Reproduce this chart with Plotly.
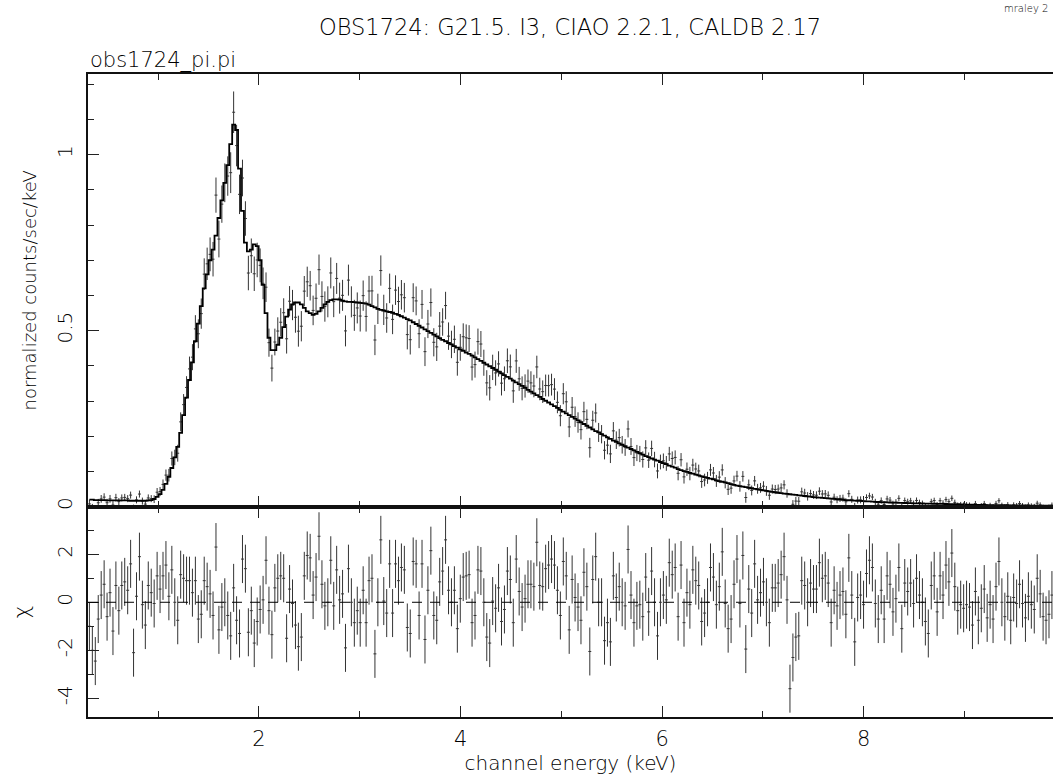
import numpy as np
import plotly.graph_objects as go
from plotly.subplots import make_subplots

# ---- channel grid (2 ACIS channels of 14.6 eV per bin) ----
bin_width_keV = 0.0292
first_bin_keV = 0.318

# ---- residuals (delta chi) read bin by bin ----
resid_chi = [
    -1.0, -2.0, -2.45, -0.7, 0.3, 0.75, -0.6, 0.4, -1.2, 0.7,
    -0.35, 0.7, 0.85, 0.5, 1.6, -2.1, 0.25, 1.9, -0.1, -0.95,
    0.7, 0.4, -0.05, 1.1, 0.55, 1.1, 1.55, 0.25, 1.35, 0.0,
    -0.75, 1.15, 1.0, 0.9, 0.9, 0.4, 0.9, -0.7, -0.5, 0.9,
    0.65, 0.35, -0.55, 2.3, -1.15, -0.2, 0.0, -0.55, -1.4, 0.6,
    -0.75, -1.3, 1.8, 1.4, -1.25, -0.35, -1.7, -0.8, -0.3, 0.1,
    1.75, -0.35, -1.35, 0.6, 1.0, 1.1, 1.0,
    -1.5, 0.55, -0.05, -0.95, -1.85, -1.45, 1.1, 1.95, 1.85, 0.3,
    1.05, 2.75, 0.75, -0.15, 0.0, 1.75, -0.15, 1.35, 0.1, 0.35,
    -1.9, 1.4, 0.0, -0.85, -0.35, -0.85, 0.5, -0.85, 0.9, 1.0,
    -2.15, 0.0, 2.6, 0.05, -0.45, 1.6, -0.45, 1.6, 0.9, 1.45,
    1.35, -1.05, -1.3, 1.7, 1.6, -0.55, 1.6, -1.55, 0.5, 2.15,
    -0.55, -0.75, 0.85, 1.3, 2.6, 0.5, 0.0, 0.5, -1.1, 0.15,
    1.05, 1.1, 1.15, -0.85, -0.55, 1.35,
    1.3, 0.0, -1.45, -1.7, 0.05, -0.25, 0.6, -0.8, -0.3, 1.3,
    0.95, -0.85, 1.8, 0.45, -0.2, 0.15, 0.75, 0.75, 0.65, 2.5,
    0.7, 0.65, 1.4, 1.55, 1.8, 1.55, 0.5, -0.55, 1.7, 1.1,
    -1.15, 0.95, 0.2, -0.2, -0.75, 1.25, 0.65, -2.05, 0.95, 1.9,
    0.0, 0.0, -1.6, -0.85, -1.65, 1.1, 0.2, 0.65, 0.0, -0.15,
    2.2, 0.3, -0.85, -0.15, -0.1, -0.6, 1.05, -0.4, 1.3, 0.0,
    -1.4, 0.0, 0.3, 0.1, 1.65, 1.15,
    1.45, -0.6, 1.55, -0.85, 0.4, -0.1, 1.35, 0.9, 0.7, -0.8,
    -0.45, 0.0, 1.45, 1.05, -0.1, 0.65, 2.1, -0.05, -1.1, -0.7,
    0.75, 1.8, -0.05, 1.95, -1.95, 0.55, -0.45, 1.6, 0.1, 0.4,
    0.85, 0.0, -0.85, 0.6, 0.6, 0.8, 1.15, 1.9, 0.1, -3.6,
    -2.3, -1.45, -1.4, 0.9, 0.7, 0.0, 0.8, 0.55, 0.55, 1.65,
    1.0, 1.1, 0.8, -0.85, 0.5, -0.15, 0.3, 0.45, -0.5, 1.85,
    0.3, -1.65, 0.2, 0.3, -0.1, 1.2,
    1.75, 1.45, -0.05, -0.7, 0.5, -0.7, 1.1, 0.75, -0.4, 0.15,
    1.45, -1.1, 0.8, 0.45, 0.8, -0.05, 1.0, 0.3, 0.0, -0.8,
    -1.3, 0.7, 1.1, -0.4, 1.1, 0.3, 1.55, 0.85, 2.05, 0.65,
    -0.35, -0.1, -0.25, -0.1, -0.2, -0.95, 0.45, -0.75, -0.25, 0.55,
    -0.65, -0.1, -0.7, 0.65, 1.7, 0.0, -0.6, 0.25, -0.75, 0.2,
    -0.05, 0.75, -0.05, -0.65, 0.25, -0.1, -0.3, 1.0, 0.35, -0.6,
    -0.75, -0.5, 0.3,
]

# ---- folded model (normalized counts/sec/keV) per bin ----
model_rate = [
    0.020, 0.020, 0.019, 0.019, 0.019, 0.019, 0.018, 0.018, 0.018, 0.018,
    0.018, 0.018, 0.018, 0.018, 0.017, 0.017, 0.017, 0.017, 0.017, 0.017,
    0.018, 0.019, 0.022, 0.028, 0.036, 0.048, 0.065, 0.085, 0.110, 0.140,
    0.170, 0.210, 0.260, 0.310, 0.360, 0.410, 0.470, 0.520, 0.570, 0.620,
    0.660, 0.700, 0.730, 0.770, 0.820, 0.870, 0.920, 0.970, 1.030, 1.085,
    1.070, 0.960, 0.840, 0.750, 0.725, 0.730, 0.745, 0.740, 0.700, 0.630,
    0.550, 0.480, 0.445, 0.445, 0.460, 0.480, 0.510, 0.540, 0.560, 0.575,
    0.580, 0.580, 0.575, 0.565, 0.555, 0.550, 0.545, 0.548, 0.555, 0.565,
    0.575, 0.582, 0.587, 0.589, 0.589, 0.588, 0.585, 0.583, 0.582, 0.582,
    0.581, 0.580, 0.579, 0.578, 0.577, 0.574, 0.570, 0.566, 0.562, 0.559,
    0.557, 0.555, 0.553, 0.551, 0.548, 0.545, 0.541, 0.537, 0.533, 0.529,
    0.524, 0.519, 0.514, 0.509, 0.504, 0.499, 0.494, 0.489, 0.484, 0.479,
    0.474, 0.470, 0.465, 0.461, 0.456, 0.452, 0.447, 0.443, 0.438, 0.434,
    0.429, 0.424, 0.419, 0.414, 0.409, 0.404, 0.399, 0.394, 0.389, 0.384,
    0.379, 0.374, 0.369, 0.364, 0.358, 0.353, 0.348, 0.343, 0.338, 0.332,
    0.327, 0.322, 0.317, 0.312, 0.306, 0.301, 0.296, 0.291, 0.286, 0.281,
    0.275, 0.270, 0.265, 0.260, 0.255, 0.250, 0.245, 0.240, 0.235, 0.230,
    0.225, 0.220, 0.215, 0.211, 0.206, 0.202, 0.197, 0.193, 0.188, 0.184,
    0.180, 0.176, 0.172, 0.168, 0.164, 0.160, 0.156, 0.152, 0.148, 0.144,
    0.141, 0.137, 0.134, 0.131, 0.127, 0.124, 0.121, 0.117, 0.114, 0.111,
    0.107, 0.104, 0.101, 0.099, 0.096, 0.094, 0.091, 0.089, 0.086, 0.084,
    0.082, 0.080, 0.078, 0.075, 0.073, 0.071, 0.069, 0.067, 0.064, 0.062,
    0.060, 0.0585, 0.057, 0.0555, 0.054, 0.0525, 0.051, 0.0495, 0.048, 0.0465,
    0.045, 0.0437, 0.0424, 0.0411, 0.0398, 0.0385, 0.0375, 0.0365, 0.0355, 0.0345,
    0.0335, 0.0325, 0.0315, 0.0305, 0.0295, 0.0285, 0.0275, 0.0267, 0.026, 0.0252,
    0.0244, 0.0237, 0.0229, 0.0221, 0.0213, 0.0206, 0.0198, 0.019, 0.0185, 0.018,
    0.0175, 0.017, 0.0165, 0.016, 0.0155, 0.015, 0.0145, 0.014, 0.0135, 0.013,
    0.0127, 0.0124, 0.0121, 0.0118, 0.0115, 0.0112, 0.0109, 0.0106, 0.0103, 0.0100,
    0.0097, 0.0095, 0.0093, 0.0092, 0.0090, 0.0088, 0.0087, 0.0085, 0.0083, 0.0082,
    0.0080, 0.0078, 0.0077, 0.0075, 0.0072, 0.0070, 0.0067, 0.0065, 0.0062, 0.0060,
    0.0057, 0.0055, 0.0052, 0.0050, 0.0049, 0.0048, 0.0047, 0.0046, 0.0045, 0.0044,
    0.0043, 0.0042, 0.0041, 0.0040, 0.0039, 0.0038, 0.0037, 0.0036, 0.0035, 0.0034,
    0.0033, 0.0032, 0.0031, 0.0030, 0.0030, 0.0030, 0.0029, 0.0029,
]

# ---- 1-sigma data errors (normalized counts/sec/keV) per bin ----
rate_err = [
    0.012, 0.012, 0.011, 0.011, 0.011, 0.011, 0.011, 0.011, 0.011, 0.011,
    0.010, 0.010, 0.010, 0.010, 0.010, 0.010, 0.010, 0.010, 0.010, 0.010,
    0.010, 0.010, 0.011, 0.012, 0.013, 0.014, 0.016, 0.018, 0.020, 0.022,
    0.024, 0.027, 0.030, 0.032, 0.035, 0.037, 0.039, 0.041, 0.043, 0.045,
    0.046, 0.048, 0.049, 0.050, 0.052, 0.053, 0.055, 0.056, 0.058, 0.059,
    0.059, 0.056, 0.052, 0.049, 0.049, 0.049, 0.049, 0.049, 0.048, 0.045,
    0.042, 0.040, 0.038, 0.038, 0.039, 0.040, 0.041, 0.042, 0.043, 0.043,
    0.044, 0.044, 0.043, 0.043, 0.043, 0.042, 0.042, 0.042, 0.043, 0.043,
    0.043, 0.044, 0.044, 0.044, 0.044, 0.044, 0.044, 0.044, 0.044, 0.044,
    0.044, 0.044, 0.044, 0.043, 0.043, 0.043, 0.043, 0.043, 0.043, 0.043,
    0.043, 0.042, 0.042, 0.042, 0.042, 0.042, 0.042, 0.042, 0.042, 0.042,
    0.041, 0.041, 0.041, 0.041, 0.041, 0.040, 0.040, 0.040, 0.040, 0.040,
    0.039, 0.039, 0.039, 0.039, 0.039, 0.038, 0.038, 0.038, 0.038, 0.038,
    0.038, 0.037, 0.037, 0.037, 0.037, 0.036, 0.036, 0.036, 0.036, 0.036,
    0.035, 0.035, 0.035, 0.035, 0.034, 0.034, 0.034, 0.034, 0.033, 0.033,
    0.033, 0.032, 0.032, 0.032, 0.032, 0.031, 0.031, 0.031, 0.031, 0.031,
    0.030, 0.030, 0.030, 0.029, 0.029, 0.029, 0.029, 0.028, 0.028, 0.028,
    0.028, 0.027, 0.027, 0.027, 0.026, 0.026, 0.026, 0.026, 0.025, 0.025,
    0.025, 0.025, 0.024, 0.024, 0.024, 0.024, 0.023, 0.023, 0.023, 0.022,
    0.022, 0.022, 0.022, 0.021, 0.021, 0.021, 0.021, 0.020, 0.020, 0.020,
    0.020, 0.019, 0.019, 0.019, 0.019, 0.018, 0.018, 0.018, 0.018, 0.018,
    0.017, 0.017, 0.017, 0.017, 0.017, 0.016, 0.016, 0.016, 0.016, 0.015,
    0.015, 0.015, 0.015, 0.015, 0.015, 0.014, 0.014, 0.014, 0.014, 0.014,
    0.014, 0.013, 0.013, 0.013, 0.013, 0.013, 0.013, 0.012, 0.012, 0.012,
    0.012, 0.012, 0.012, 0.012, 0.012, 0.011, 0.011, 0.011, 0.011, 0.011,
    0.011, 0.011, 0.011, 0.010, 0.010, 0.010, 0.010, 0.010, 0.010, 0.010,
    0.010, 0.010, 0.010, 0.009, 0.009, 0.009, 0.009, 0.009, 0.009, 0.009,
    0.0090, 0.0089, 0.0089, 0.0088, 0.0088, 0.0087, 0.0087, 0.0086, 0.0086, 0.0085,
    0.0084, 0.0084, 0.0083, 0.0083, 0.0083, 0.0082, 0.0082, 0.0082, 0.0082, 0.0081,
    0.0081, 0.0080, 0.0080, 0.0080, 0.0079, 0.0079, 0.0078, 0.0078, 0.0078, 0.0077,
    0.0076, 0.0076, 0.0075, 0.0075, 0.0075, 0.0075, 0.0074, 0.0074, 0.0074, 0.0074,
    0.0073, 0.0073, 0.0073, 0.0073, 0.0072, 0.0072, 0.0072, 0.0072, 0.0071, 0.0071,
    0.0071, 0.0071, 0.0070, 0.0070, 0.0070, 0.0070, 0.0070, 0.0070,
]

assert len(resid_chi) == len(model_rate) == len(rate_err), (
    len(resid_chi), len(model_rate), len(rate_err))

n_bins = len(resid_chi)
energy = first_bin_keV + bin_width_keV * np.arange(n_bins)
model = np.array(model_rate)
err = np.array(rate_err)
resid = np.array(resid_chi)
data = model + resid * err          # data = model + chi * sigma
half_w = np.full(n_bins, bin_width_keV / 2)

X_RANGE = [0.304, 9.877]
FONT = "DejaVu Sans"
WEIGHT = 200
INK = "#000000"
BAR = "#333333"


def tfont(size):
    return dict(family=FONT, size=size, color=INK, weight=WEIGHT)


fig = make_subplots(rows=2, cols=1, shared_xaxes=True, vertical_spacing=0,
                    row_heights=[0.673, 0.327])

# top panel: data crosses
fig.add_trace(go.Scatter(
    x=energy, y=data, mode="markers",
    marker=dict(size=0.1, color=BAR),
    error_x=dict(type="data", array=half_w, symmetric=True, thickness=1, width=0, color=BAR),
    error_y=dict(type="data", array=err, symmetric=True, thickness=1, width=0, color=BAR),
    showlegend=False, hoverinfo="skip"), row=1, col=1)

# top panel: model histogram
fig.add_trace(go.Scatter(
    x=energy, y=model, mode="lines", line=dict(color="black", width=1.8, shape="hvh"),
    showlegend=False, hoverinfo="skip"), row=1, col=1)

# bottom panel: residuals
fig.add_trace(go.Scatter(
    x=energy, y=resid, mode="markers",
    marker=dict(size=0.1, color=BAR),
    error_x=dict(type="data", array=half_w, symmetric=True, thickness=1, width=0, color=BAR),
    error_y=dict(type="data", array=np.ones(n_bins), symmetric=True, thickness=1, width=0, color=BAR),
    showlegend=False, hoverinfo="skip"), row=2, col=1)

fig.add_hline(y=0, line=dict(color="black", width=1, dash="10px,8px"), row=2, col=1)

xcommon = dict(range=X_RANGE, tick0=0, dtick=2, ticks="inside", ticklen=11, tickwidth=1.2,
               tickcolor="#222", showline=True, linecolor="#111", linewidth=2,
               mirror="ticks", showgrid=False, zeroline=False,
               minor=dict(dtick=1, tick0=0, ticks="inside", ticklen=6, tickwidth=1.2,
                          tickcolor="#222", showgrid=False))
fig.update_xaxes(**xcommon)
fig.update_xaxes(showticklabels=False, row=1, col=1)
fig.update_xaxes(showticklabels=True, tickfont=tfont(21), ticklabelstandoff=2,
                 title=dict(text="channel energy (keV)", font=tfont(20), standoff=4),
                 row=2, col=1)

fig.update_yaxes(range=[0, 1.229], tick0=0, dtick=0.5, ticks="inside", ticklen=11, tickwidth=1.2,
                 tickcolor="#222", showline=True, linecolor="#111", linewidth=1.5, mirror=False,
                 showgrid=False, zeroline=False, tickangle=-90,
                 tickfont=tfont(20), ticklabelstandoff=6,
                 minor=dict(dtick=0.1, tick0=0, ticks="inside", ticklen=6, tickwidth=1.2,
                            tickcolor="#222", showgrid=False),
                 title=dict(text="normalized counts/sec/keV", font=tfont(18), standoff=12),
                 row=1, col=1)

fig.update_yaxes(range=[-4.78, 3.98], tickmode="array", tickvals=[-4, -2, 0, 2],
                 ticktext=["-4", "-2", "0", "2"], ticks="inside", ticklen=11, tickwidth=1.2,
                 tickcolor="#222", showline=True, linecolor="#111", linewidth=1.5, mirror=False,
                 showgrid=False, zeroline=False, tickangle=-90,
                 tickfont=tfont(20), ticklabelstandoff=6,
                 minor=dict(tickmode="array", tickvals=[-3, -1, 1, 3], ticks="inside", ticklen=6,
                            tickwidth=1.2, tickcolor="#222", showgrid=False),
                 title=dict(text="χ", font=tfont(22), standoff=18),
                 row=2, col=1)

fig.add_annotation(text="OBS1724: G21.5. I3, CIAO 2.2.1, CALDB 2.17", xref="paper", yref="paper",
                   x=0.4995, y=1.073, xanchor="center", yanchor="middle", showarrow=False,
                   font=tfont(22.5))
fig.add_annotation(text="obs1724_pi.pi", xref="paper", yref="paper",
                   x=0.0, y=1.0218, xanchor="left", yanchor="middle", showarrow=False,
                   font=tfont(21))
fig.add_annotation(text="mraley 2", xref="paper", yref="paper",
                   x=0.9965, y=1.1026, xanchor="right", yanchor="middle", showarrow=False,
                   font=tfont(10))

fig.update_layout(width=1053, height=781, margin=dict(l=88, r=0, t=74, b=64),
                  paper_bgcolor="white", plot_bgcolor="white",
                  font=dict(family=FONT, color=INK))

fig.write_html("out.html")
